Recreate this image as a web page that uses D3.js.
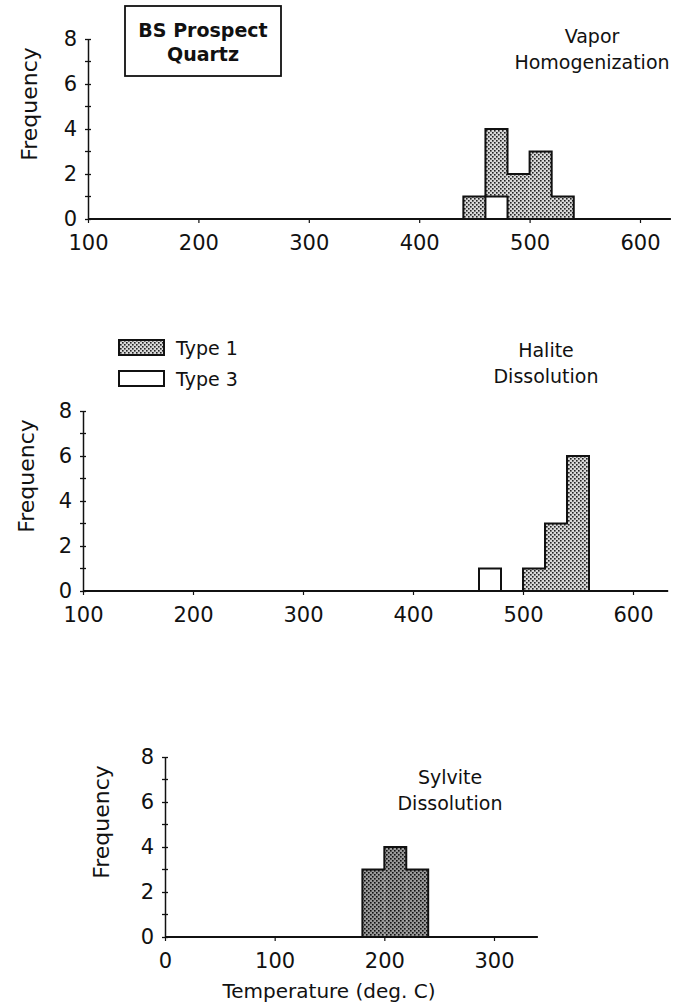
<!DOCTYPE html>
<html>
<head>
<meta charset="utf-8">
<script src="https://cdn.jsdelivr.net/npm/d3@7"></script>
<style>
  html, body { margin: 0; padding: 0; background: #fff; }
  svg { display: block; }
  text { font-family: "DejaVu Sans", sans-serif; fill: #111; }
</style>
</head>
<body>
<svg id="chart" width="674" height="1008"></svg>
<script>
// Fluid inclusion homogenization / dissolution temperatures, BS Prospect quartz
const binWidth = 20;

// Vapor homogenization (bin start, counts per inclusion type)
const vaporBins  = [440, 460, 480, 500, 520];
const vaporType1 = [1, 3, 2, 3, 1];
const vaporType3 = [0, 1, 0, 0, 0];

// Halite dissolution
const haliteBins  = [460, 480, 500, 520, 540];
const haliteType1 = [0, 0, 1, 3, 6];
const haliteType3 = [1, 0, 0, 0, 0];

// Sylvite dissolution
const sylviteBins  = [180, 200, 220];
const sylviteType1 = [3, 4, 3];
const sylviteType3 = [0, 0, 0];

const freqTicks   = [0, 2, 4, 6, 8];
const freqMinor   = [1, 3, 5, 7];
const tempTicksA  = [100, 200, 300, 400, 500, 600];
const tempTicksB  = [0, 100, 200, 300];

const legendItems = ["Type 1", "Type 3"];

const svg = d3.select("#chart");
const defs = svg.append("defs");

// stipple fills for Type 1 bars
function stipple(id, dot, bg) {
  const p = defs.append("pattern").attr("id", id)
    .attr("patternUnits", "userSpaceOnUse").attr("width", 4).attr("height", 4);
  p.append("rect").attr("width", 4).attr("height", 4).attr("fill", bg);
  p.append("rect").attr("x", 0).attr("y", 0).attr("width", 1.6).attr("height", 1.6).attr("fill", dot);
  p.append("rect").attr("x", 2).attr("y", 2).attr("width", 1.6).attr("height", 1.6).attr("fill", dot);
}
stipple("dots", "#222", "#d8d8d8");
stipple("dotsDark", "#111", "#9a9a9a");

const panels = [
  { bins: vaporBins, t1: vaporType1, t3: vaporType3,
    xDomain: [100, 600], xRange: [88, 640], xEnd: 628, xTicks: tempTicksA,
    yRange: [219, 39], freqX: 29, title: ["Vapor", "Homogenization"], titleX: 592, titleY: 36,
    fill: "url(#dots)" },
  { bins: haliteBins, t1: haliteType1, t3: haliteType3,
    xDomain: [100, 600], xRange: [83, 633], xEnd: 632, xTicks: tempTicksA,
    yRange: [591, 411], freqX: 26, title: ["Halite", "Dissolution"], titleX: 546, titleY: 350,
    fill: "url(#dots)" },
  { bins: sylviteBins, t1: sylviteType1, t3: sylviteType3,
    xDomain: [0, 300], xRange: [165, 494], xEnd: 340, xTicks: tempTicksB,
    yRange: [937, 757], freqX: 101, title: ["Sylvite", "Dissolution"], titleX: 450, titleY: 777,
    fill: "url(#dotsDark)", xLabel: "Temperature (deg. C)" }
];

panels.forEach(p => {
  const x = d3.scaleLinear().domain(p.xDomain).range(p.xRange);
  const y = d3.scaleLinear().domain([0, 8]).range(p.yRange);
  const g = svg.append("g");

  // stacked bars: Type 3 at the base, Type 1 above
  const rows = p.bins.map((b, i) => ({ x0: b, x1: b + binWidth, t3: p.t3[i], t1: p.t1[i] }));

  g.selectAll("rect.t1").data(rows.filter(d => d.t1 > 0)).join("rect")
    .attr("x", d => x(d.x0)).attr("width", d => x(d.x1) - x(d.x0))
    .attr("y", d => y(d.t3 + d.t1)).attr("height", d => y(d.t3) - y(d.t3 + d.t1))
    .attr("fill", p.fill);

  // silhouette outline of Type 1 bars, run by run
  const runs = [];
  let cur = null;
  rows.forEach(d => {
    if (d.t1 > 0) {
      if (!cur || cur.end !== d.x0) { cur = { pts: [], end: null }; runs.push(cur); }
      if (cur.pts.length === 0) cur.pts.push([d.x0, d.t3]);
      cur.pts.push([d.x0, d.t3 + d.t1], [d.x1, d.t3 + d.t1]);
      cur.end = d.x1;
    } else cur = null;
  });
  const line = d3.line().x(d => x(d[0])).y(d => y(d[1]));
  runs.forEach(r => {
    r.pts.push([r.end, 0]);
    g.append("path").attr("d", line(r.pts)).attr("fill", "none")
      .attr("stroke", "#111").attr("stroke-width", 2).attr("stroke-linejoin", "miter");
  });

  g.selectAll("rect.t3").data(rows.filter(d => d.t3 > 0)).join("rect")
    .attr("x", d => x(d.x0)).attr("width", d => x(d.x1) - x(d.x0))
    .attr("y", d => y(d.t3)).attr("height", d => y(0) - y(d.t3))
    .attr("fill", "#fff").attr("stroke", "#111").attr("stroke-width", 2);

  // x axis
  const xa = g.append("g").attr("transform", `translate(0,${y(0)})`)
    .call(d3.axisBottom(x).tickValues(p.xTicks).tickSize(4).tickPadding(12).tickSizeOuter(0));
  xa.select(".domain").remove();
  xa.append("line").attr("x1", x(p.xDomain[0])).attr("x2", x(p.xEnd))
    .attr("stroke", "#111").attr("stroke-width", 1.8);
  xa.selectAll(".tick line").attr("stroke", "#111").attr("stroke-width", 1.2);
  xa.selectAll(".tick text").attr("font-size", 21).attr("font-family", "DejaVu Sans").attr("fill", "#111");

  // y axis with crossing ticks
  const ya = g.append("g").attr("transform", `translate(${x(p.xDomain[0])},0)`)
    .call(d3.axisLeft(y).tickValues(freqTicks).tickSize(3).tickPadding(8).tickSizeOuter(0));
  ya.select(".domain").attr("stroke", "#111").attr("stroke-width", 1.5);
  ya.selectAll(".tick line").attr("x1", 3).attr("stroke", "#111").attr("stroke-width", 1.3);
  ya.selectAll(".tick text").attr("font-size", 21).attr("font-family", "DejaVu Sans").attr("fill", "#111");
  ya.selectAll("line.minor").data(freqMinor).join("line").attr("class", "minor")
    .attr("x1", -3).attr("x2", 3).attr("y1", d => y(d)).attr("y2", d => y(d))
    .attr("stroke", "#111").attr("stroke-width", 1.3);

  // y axis title
  g.append("text")
    .attr("transform", `translate(${p.freqX},${(y(0) + y(8)) / 2 - 25}) rotate(-90)`)
    .attr("text-anchor", "middle").attr("dominant-baseline", "central")
    .attr("font-size", 22).text("Frequency");

  // panel title
  p.title.forEach((t, i) => {
    g.append("text").attr("x", p.titleX).attr("y", p.titleY + i * 26)
      .attr("text-anchor", "middle").attr("dominant-baseline", "central")
      .attr("font-size", 19).text(t);
  });

  if (p.xLabel) {
    g.append("text").attr("x", 329).attr("y", 991)
      .attr("text-anchor", "middle").attr("dominant-baseline", "central")
      .attr("font-size", 20).text(p.xLabel);
  }
});

// sample label box
const box = svg.append("g");
box.append("rect").attr("x", 125).attr("y", 6).attr("width", 156).attr("height", 70)
  .attr("fill", "#fff").attr("stroke", "#111").attr("stroke-width", 1.8);
box.append("text").attr("x", 203).attr("y", 30).attr("text-anchor", "middle")
  .attr("dominant-baseline", "central").attr("font-size", 19).attr("font-weight", "bold")
  .text("BS Prospect");
box.append("text").attr("x", 203).attr("y", 54).attr("text-anchor", "middle")
  .attr("dominant-baseline", "central").attr("font-size", 19).attr("font-weight", "bold")
  .text("Quartz");

// legend
const leg = svg.append("g");
legendItems.forEach((name, i) => {
  const yy = 340 + i * 31;
  leg.append("rect").attr("x", 119).attr("y", yy).attr("width", 45).attr("height", 15)
    .attr("fill", i === 0 ? "url(#dots)" : "#fff").attr("stroke", "#111").attr("stroke-width", 2);
  leg.append("text").attr("x", 176).attr("y", yy + 8).attr("dominant-baseline", "central")
    .attr("font-size", 19).text(name);
});
</script>
</body>
</html>
